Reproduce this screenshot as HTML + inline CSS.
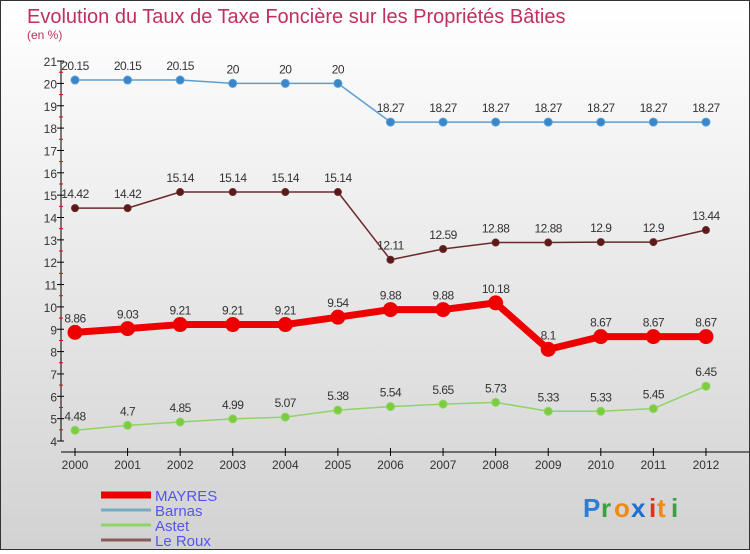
<!DOCTYPE html>
<html><head><meta charset="utf-8"><style>
html,body{margin:0;padding:0}
body{width:750px;height:550px;overflow:hidden;font-family:"Liberation Sans",sans-serif}
#wrap{position:relative;width:748px;height:548px;border:1px solid #333;background:linear-gradient(#ffffff,#d2d2d2)}
</style></head><body>
<div id="wrap">
<svg id="chart" width="748" height="548">
<text x="26" y="22" font-size="20" fill="#c0305e">Evolution du Taux de Taxe Foncière sur les Propriétés Bâties</text>
<text x="26" y="38" font-size="12" fill="#c0305e">(en %)</text>
<g id="axes"></g><g id="series"></g><g id="legend"></g>
<g font-size="26" font-weight="bold">
<text x="582" y="516" fill="#2a7fd4">P</text><text x="600" y="516" fill="#3aa040">r</text><text x="613" y="516" fill="#f08a10">o</text><text x="630" y="516" fill="#1a6fd0">x</text><text x="648" y="516" fill="#e03020">i</text><text x="656" y="516" fill="#f08a10">t</text><text x="670" y="516" fill="#3aa040">i</text>
</g>
</svg></div>
<script>
const years=[2000,2001,2002,2003,2004,2005,2006,2007,2008,2009,2010,2011,2012];
const mayres=[8.86,9.03,9.21,9.21,9.21,9.54,9.88,9.88,10.18,8.1,8.67,8.67,8.67];
const barnas=[20.15,20.15,20.15,20,20,20,18.27,18.27,18.27,18.27,18.27,18.27,18.27];
const astet=[4.48,4.7,4.85,4.99,5.07,5.38,5.54,5.65,5.73,5.33,5.33,5.45,6.45];
const leroux=[14.42,14.42,15.14,15.14,15.14,15.14,12.11,12.59,12.88,12.88,12.9,12.9,13.44];
const yTicks=[4,5,6,7,8,9,10,11,12,13,14,15,16,17,18,19,20,21];
const NS="http://www.w3.org/2000/svg";
const x=i=>74+i*52.58;
const y=v=>440-(v-4)*22.35;
function mk(t,a,p){const e=document.createElementNS(NS,t);for(const k in a)e.setAttribute(k,a[k]);p.appendChild(e);return e;}
const ax=document.getElementById('axes');
const yl=mk('line',{x1:60,y1:y(21),x2:60,y2:y(4),stroke:'#000'},ax);


yTicks.forEach(v=>{
 mk('line',{x1:56,y1:y(v),x2:63,y2:y(v),stroke:'#000'},ax);
 if(v<21) mk('line',{x1:58,y1:y(v+0.5),x2:62,y2:y(v+0.5),stroke:'#e00'},ax);
 const t=mk('text',{x:56,y:y(v)+5,'font-size':12,'text-anchor':'end',fill:'#333'},ax);t.textContent=v;
 
 
});
const xl=mk('line',{x1:60,y1:451,x2:748,y2:451,stroke:'#000'},ax);


years.forEach((yr,i)=>{
 mk('line',{x1:x(i),y1:447,x2:x(i),y2:455,stroke:'#000'},ax);
 const t=mk('text',{x:x(i),y:468,'font-size':12,'text-anchor':'middle',fill:'#333'},ax);t.textContent=yr;
 
 
});
const sg=document.getElementById('series');
function draw(name,vals,color,w,r,dot,labs){
 const g=mk('g',{},sg);
 
 
 mk('polyline',{points:vals.map((v,i)=>x(i)+','+y(v)).join(' '),fill:'none',stroke:color,'stroke-width':w,'stroke-linejoin':'round'},g);
 vals.forEach((v,i)=>{
  const c=mk('circle',{cx:x(i),cy:y(v),r:r,fill:dot,stroke:color,'stroke-width':1},g);
  
  
  const t=mk('text',{x:x(i),y:y(v)-10,'font-size':12,'text-anchor':'middle',fill:'#333','letter-spacing':'-0.5'},g);
  t.textContent=labs?labs[i]:v;
  
  
 });
}
draw('barnas',barnas,'#5a9fd4',1.5,4,'#3a86c8');
draw('le-roux',leroux,'#6b2a2a',1.5,3.5,'#5a1a1a');
draw('astet',astet,'#8fd468',1.5,4,'#7ccc40');
draw('mayres',mayres,'#ee0000',7,7,'#ee0000');
const lg=document.getElementById('legend');
[['MAYRES','#ee0000',7],['Barnas','#7aa8c8',3],['Astet','#8fd468',3],['Le Roux','#8a5a5a',3]].forEach((d,i)=>{
 const yy=494+i*15;
 const l=mk('line',{x1:100,y1:yy,x2:150,y2:yy,stroke:d[1],'stroke-width':d[2]},lg);
 
 
 const t=mk('text',{x:154,y:yy+6,'font-size':15,fill:'#5555ee'},lg);t.textContent=d[0];
 
 
});
</script>
</body></html>
